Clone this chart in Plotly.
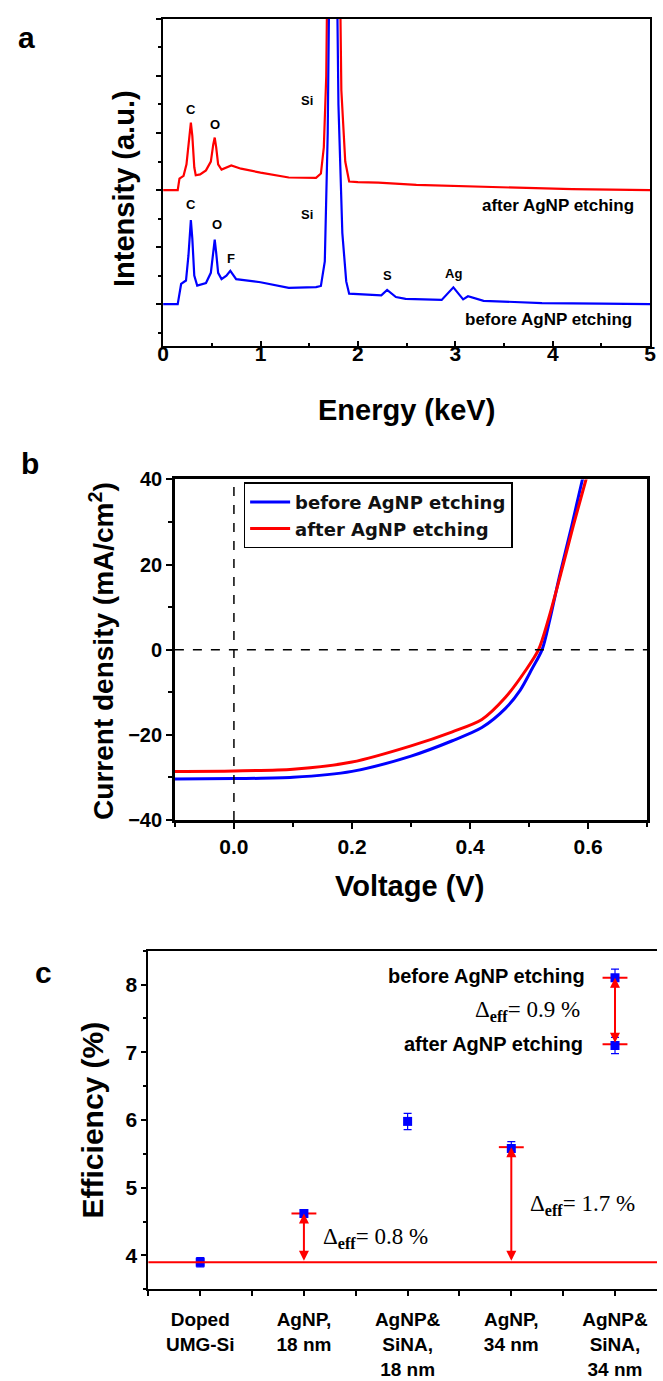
import plotly.graph_objects as go

W, H = 663, 1381
def px(x):
    return x / W
def py(y):
    return 1 - y / H

# ---------------- Panel a: EDX spectra ----------------
energy_after = [0, 0.15, 0.168, 0.21, 0.24, 0.265, 0.285, 0.30, 0.32, 0.335, 0.38, 0.44, 0.49, 0.515,
                0.53, 0.545, 0.565, 0.60, 0.65, 0.70, 0.80, 1.0, 1.29, 1.57, 1.62, 1.65, 1.675, 1.70,
                1.80, 1.83, 1.87, 1.91, 2.0, 2.21, 2.6, 3.0, 3.55, 4.2, 5.0]
intensity_after = [0, 0, 0.4, 0.5, 0.9, 1.8, 2.36, 1.9, 0.8, 0.52, 0.55, 0.69, 1.0, 1.6,
                   1.84, 1.5, 0.9, 0.72, 0.8, 0.86, 0.75, 0.61, 0.44, 0.43, 0.58, 1.5, 4.0, 12.0,
                   12.0, 3.5, 1.0, 0.3, 0.28, 0.26, 0.18, 0.14, 0.08, 0.03, 0.0]
after_offset = 4.0

energy_before = [0, 0.15, 0.185, 0.235, 0.26, 0.285, 0.30, 0.32, 0.35, 0.44, 0.49, 0.515, 0.53, 0.545,
                 0.565, 0.60, 0.65, 0.69, 0.75, 1.0, 1.29, 1.57, 1.62, 1.66, 1.69, 1.72, 1.77, 1.80,
                 1.84, 1.88, 1.91, 2.24, 2.30, 2.39, 2.49, 2.86, 2.98, 3.08, 3.13, 3.29, 3.89, 4.5, 5.0]
intensity_before = [0, 0, 0.71, 0.83, 1.7, 2.95, 2.3, 1.0, 0.65, 0.74, 1.1, 1.9, 2.26, 1.8,
                    1.1, 0.88, 1.0, 1.17, 0.88, 0.77, 0.57, 0.6, 0.64, 1.5, 6.0, 16.0, 16.0, 7.0,
                    2.5, 0.8, 0.37, 0.31, 0.5, 0.25, 0.19, 0.15, 0.59, 0.17, 0.28, 0.12, 0.04, 0.02, 0.0]
before_offset = 0.0

# ---------------- Panel b: J-V curves ----------------
voltage_before = [-0.1, 0.0, 0.1, 0.2, 0.3, 0.37, 0.42, 0.46, 0.485, 0.505, 0.522, 0.535, 0.551, 0.572, 0.590, 0.60]
current_before = [-30.4, -30.3, -30.0, -28.6, -25.0, -21.4, -18.3, -13.8, -9.5, -4.5, 0.0, 7.0, 17.0, 29.0, 39.8, 45.5]
voltage_after = [-0.1, 0.0, 0.1, 0.2, 0.3, 0.37, 0.42, 0.46, 0.494, 0.516, 0.533, 0.555, 0.575, 0.596, 0.61]
current_after = [-28.6, -28.5, -28.1, -26.4, -22.6, -19.3, -16.4, -11.2, -4.9, 0.0, 7.3, 18.5, 29.2, 39.8, 47.0]

# ---------------- Panel c: efficiency ----------------
categories = ["Doped<br>UMG-Si", "AgNP,<br>18 nm", "AgNP&amp;<br>SiNA,<br>18 nm", "AgNP,<br>34 nm",
              "AgNP&amp;<br>SiNA,<br>34 nm"]
eff_index = [0, 1, 2, 3, 4, 4]
efficiency = [3.9, 4.62, 5.98, 5.58, 8.1, 7.1]
eff_error = [0.07, 0.05, 0.12, 0.10, 0.13, 0.12]
baseline_eff = 3.9
marked_index = [1, 3, 4, 4]
marked_value = [4.62, 5.60, 8.10, 7.12]
arrow_index = [1, 3, 4]
arrow_low = [3.9, 3.9, 7.12]
arrow_high = [4.62, 5.60, 8.10]
delta_labels = ["0.8 %", "1.7 %", "0.9 %"]

RED = "#FF0000"
BLUE = "#0000FF"
FONT = "Liberation Sans, Arial, sans-serif"
SERIF = "Liberation Serif, Times New Roman, serif"

fig = go.Figure()

fig.add_trace(go.Scatter(x=energy_after, y=[v + after_offset for v in intensity_after], mode="lines",
                         line=dict(color=RED, width=2.2), xaxis="x", yaxis="y", showlegend=False))
fig.add_trace(go.Scatter(x=energy_before, y=[v + before_offset for v in intensity_before], mode="lines",
                         line=dict(color=BLUE, width=2.2), xaxis="x", yaxis="y", showlegend=False))

fig.add_trace(go.Scatter(x=voltage_before, y=current_before, mode="lines", name="before AgNP etching",
                         line=dict(color=BLUE, width=3, shape="spline", smoothing=0.8),
                         xaxis="x2", yaxis="y2"))
fig.add_trace(go.Scatter(x=voltage_after, y=current_after, mode="lines", name="after AgNP etching",
                         line=dict(color=RED, width=3, shape="spline", smoothing=0.8),
                         xaxis="x2", yaxis="y2"))

# red marker bars in panel c
bx, by = [], []
for i, v in zip(marked_index, marked_value):
    bx += [i - 0.12, i + 0.12, None]
    by += [v, v, None]
fig.add_trace(go.Scatter(x=bx, y=by, mode="lines", line=dict(color=RED, width=2),
                         xaxis="x3", yaxis="y3", showlegend=False))
fig.add_trace(go.Scatter(x=eff_index, y=efficiency, mode="markers",
                         marker=dict(symbol="square", size=9, color=BLUE),
                         error_y=dict(type="data", array=eff_error, color=BLUE, thickness=1.2, width=4),
                         xaxis="x3", yaxis="y3", showlegend=False))

axis_common = dict(showline=True, linecolor="black", mirror=True, showgrid=False, zeroline=False,
                   tickcolor="black")

fig.update_layout(
    width=W, height=H, margin=dict(l=0, r=0, t=0, b=0),
    paper_bgcolor="white", plot_bgcolor="white",
    font=dict(family=FONT, color="black"),
    xaxis=dict(domain=[px(160), px(656)], anchor="y", range=[0, 5], dtick=1, tick0=0,
               linewidth=2, ticks="inside", ticklen=5, tickwidth=1.5, ticklabelstandoff=-12,
               minor=dict(dtick=0.5, ticks="inside", ticklen=3, tickcolor="black"),
               tickfont=dict(size=21, weight="bold", family=FONT), **axis_common),
    yaxis=dict(domain=[py(340), py(8)], anchor="x", range=[-1.45, 10], dtick=2, tick0=0,
               showticklabels=False, linewidth=2, ticks="outside", ticklen=5, tickwidth=1.5,
               minor=dict(dtick=1, ticks="outside", ticklen=3, tickcolor="black"), **axis_common),
    xaxis2=dict(domain=[px(172), px(653)], anchor="y2", range=[-0.1, 0.7], dtick=0.2, tick0=0,
                tickformat=".1f", linewidth=2.5, ticks="outside", ticklen=6, tickwidth=2,
                minor=dict(dtick=0.1, ticks="outside", ticklen=4, tickcolor="black"),
                tickfont=dict(size=21, weight="bold", family=FONT), **axis_common),
    yaxis2=dict(domain=[py(822), py(476)], anchor="x2", range=[-40, 40], dtick=20,
                linewidth=2.5, ticks="outside", ticklen=6, tickwidth=2,
                minor=dict(dtick=10, ticks="outside", ticklen=4, tickcolor="black"),
                tickfont=dict(size=20, weight="bold", family=FONT), **axis_common),
    xaxis3=dict(domain=[px(145), 1.0], anchor="y3", range=[-0.5, 4.405],
                tickvals=list(range(len(categories))), ticktext=categories,
                linewidth=2, ticklen=5, tickwidth=1.5, ticklabelstandoff=7,
                minor=dict(tickvals=[i - 0.5 for i in range(len(categories))], ticks="outside",
                           ticklen=5, tickcolor="black"),
                tickfont=dict(size=19, weight="bold", family=FONT),
                showline=True, linecolor="black", mirror=True, showgrid=False, zeroline=False,
                ticks="outside", tickcolor="black"),
    yaxis3=dict(domain=[py(1299), py(955)], anchor="x3", range=[3.5, 8.5], dtick=1,
                linewidth=2, ticklen=5, tickwidth=1.5,
                minor=dict(dtick=0.5, ticks="outside", ticklen=3, tickcolor="black"),
                tickfont=dict(size=21, weight="bold", family=FONT),
                showline=True, linecolor="black", mirror=False, showgrid=False, zeroline=False,
                ticks="outside", tickcolor="black"),
    legend=dict(x=px(242), y=py(479), xanchor="left", yanchor="top",
                bordercolor="black", borderwidth=1.5, bgcolor="white",
                font=dict(size=18, family="DejaVu Sans, Liberation Sans, sans-serif",
                          weight="bold", color="#111111"),
                tracegroupgap=0, itemwidth=40),
)

shapes = [
    dict(type="line", xref="x2", yref="y2 domain", x0=0, x1=0, y0=0, y1=1,
         line=dict(color="black", width=1.5, dash="dash")),
    dict(type="line", xref="x2 domain", yref="y2", x0=0, x1=1, y0=0, y1=0,
         line=dict(color="black", width=1.5, dash="dash")),
    dict(type="line", xref="x3 domain", yref="y3", x0=0, x1=1, y0=baseline_eff, y1=baseline_eff,
         line=dict(color=RED, width=2)),
]
fig.update_layout(shapes=shapes)

ann = []
def text(x, y, s, size, xanchor="center", family=FONT, bold=True, angle=0):
    ann.append(dict(x=px(x), y=py(y), xref="paper", yref="paper", text=s, showarrow=False,
                    xanchor=xanchor, yanchor="middle", textangle=angle,
                    font=dict(size=size, family=family, color="black",
                              weight="bold" if bold else "normal")))

# panel letters
text(21, 27, "a", 30)
text(24, 460, "b", 30)
text(38, 977, "c", 30)

# panel a labels
text(188, 100, "C", 13)
text(213, 115, "O", 13)
text(307, 91, "Si", 13)
text(188, 197, "C", 13)
text(215, 217, "O", 13)
text(229, 252, "F", 13)
text(307, 207, "Si", 13)
text(389, 269, "S", 13)
text(456, 267, "Ag", 13)
text(642, 198, "after AgNP etching", 17, xanchor="right")
text(640, 314, "before AgNP etching", 17, xanchor="right")

# axis titles
text(120, 180, "Intensity (a.u.)", 29, angle=-90)
text(408, 405, "Energy (keV)", 29)
text(97, 650, "Current density (mA/cm<sup>2</sup>)", 28, angle=-90)
text(411, 889, "Voltage (V)", 29)
text(88, 1127, "Efficiency (%)", 30, angle=-90)

# panel c labels
text(592, 981, "before AgNP etching", 20, xanchor="right")
text(590, 1050, "after AgNP etching", 20, xanchor="right")
delta_pos = [(321, 1247), (532, 1213), (476, 1016)]
for (x, y), lab in zip(delta_pos, delta_labels):
    text(x, y, "\u0394<sub><b>eff</b></sub>= " + lab, 23, xanchor="left", family=SERIF, bold=False)

# double-headed arrows
for i, lo, hi in zip(arrow_index, arrow_low, arrow_high):
    ann.append(dict(x=i, y=hi, ax=i, ay=lo, xref="x3", yref="y3", axref="x3", ayref="y3",
                    text="", showarrow=True, arrowhead=2, startarrowhead=2, arrowside="end+start",
                    arrowcolor=RED, arrowwidth=2, arrowsize=1))

fig.update_layout(annotations=ann)

fig.write_html("out.html")
